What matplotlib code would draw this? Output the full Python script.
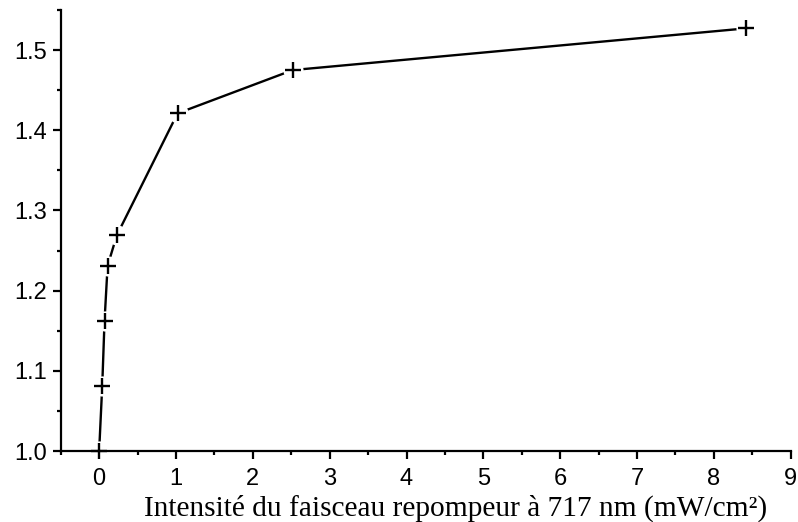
import matplotlib
matplotlib.use("Agg")
import matplotlib.pyplot as plt
from matplotlib.ticker import MultipleLocator

# Repumper intensity (mW/cm²) and measured ratio
intensity = [0.0, 0.04, 0.07, 0.11, 0.23, 1.02, 2.52, 8.42]
ratio = [1.0, 1.081, 1.162, 1.231, 1.269, 1.421, 1.475, 1.527]

fig = plt.figure(figsize=(7.98, 5.22), dpi=100)
ax = fig.add_axes([0.0761, 0.136, 0.9148, 0.845])

ax.plot(intensity, ratio, color="black", lw=1.7, zorder=2, clip_on=False)
# white discs break the line around each point
ax.plot(intensity, ratio, ls="none", marker="o", ms=14.5, mfc="white", mec="none",
        zorder=3, clip_on=False)
ax.plot(intensity, ratio, ls="none", marker="+", ms=11, mew=1.7, color="black",
        zorder=5, clip_on=False)

ax.set_xlim(-0.5, 9)
ax.set_ylim(1.0, 1.55)
ax.xaxis.set_major_locator(MultipleLocator(1))
ax.xaxis.set_minor_locator(MultipleLocator(0.5))
ax.yaxis.set_major_locator(MultipleLocator(0.1))
ax.yaxis.set_minor_locator(MultipleLocator(0.05))
ax.yaxis.set_major_formatter(plt.FuncFormatter(lambda v, p: f"{v:.1f}"))

for s in ("top", "right"):
    ax.spines[s].set_visible(False)
for s in ("left", "bottom"):
    ax.spines[s].set_linewidth(1.6)
    ax.spines[s].set_zorder(4)

ax.tick_params(which="major", direction="out", length=6, width=1.6,
               labelsize=17)
ax.tick_params(which="minor", direction="out", length=3, width=1.6)
ax.tick_params(axis="x", which="major", pad=6)
ax.tick_params(axis="y", which="major", pad=4)
for lbl in ax.get_xticklabels() + ax.get_yticklabels():
    lbl.set_fontfamily("Liberation Sans")

fig.text(0.5714, 0.0115, "Intensité du faisceau repompeur à 717 nm (mW/cm²)",
         fontfamily="Liberation Serif", fontsize=21.2, ha="center", va="baseline")

fig.savefig("out.png", dpi=100)
